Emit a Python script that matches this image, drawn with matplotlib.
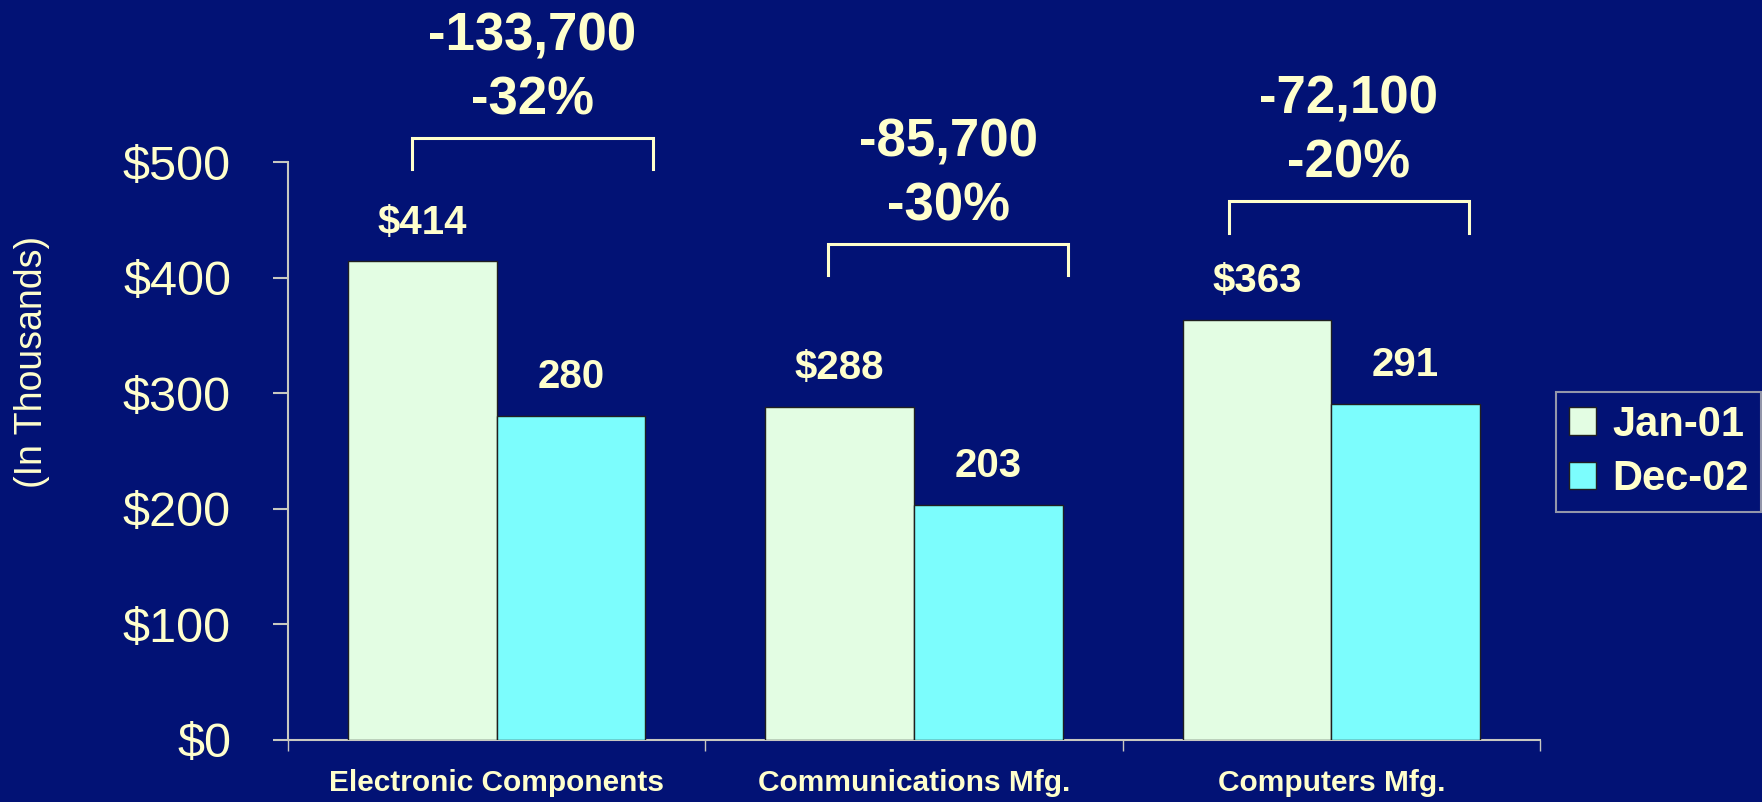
import matplotlib
matplotlib.use("Agg")
import matplotlib.pyplot as plt
from matplotlib.patches import Patch
import matplotlib.font_manager as fm

# ---- data ----
categories = ["Electronic Components", "Communications Mfg.", "Computers Mfg."]
series_names = ["Jan-01", "Dec-02"]
jan01 = [414, 288, 363]
dec02 = [280, 203, 291]
change_abs = ["-133,700", "-85,700", "-72,100"]
change_pct = ["-32%", "-30%", "-20%"]
yticks = [0, 100, 200, 300, 400, 500]
ytick_labels = ["$0", "$100", "$200", "$300", "$400", "$500"]

# ---- layout (not data) ----
bracket_top = [521, 429, 466]
bracket_left = [-0.202, -0.207, -0.246]
bracket_right = [0.374, 0.370, 0.330]
bracket_drop = 27

BG = "#021275"
TXT = "#FFFFCC"
C_JAN = "#E3FDE3"
C_DEC = "#7CFDFD"
AX = "#C8C8C0"

names = {f.name for f in fm.fontManager.ttflist}
base = "Liberation Sans" if "Liberation Sans" in names else "DejaVu Sans"
narrow = "Liberation Sans Narrow" if "Liberation Sans Narrow" in names else None
plt.rcParams["font.family"] = [base, "DejaVu Sans"]

fig = plt.figure(figsize=(17.62, 8.02), dpi=100, facecolor=BG)
ax = fig.add_axes([288 / 1762, 62 / 802, (1540 - 288) / 1762, 578 / 802])
ax.set_facecolor(BG)

w = 0.356
x = list(range(len(categories)))
ax.bar([i - w / 2 for i in x], jan01, width=w, color=C_JAN, edgecolor="#202020", linewidth=1, zorder=3)
ax.bar([i + w / 2 for i in x], dec02, width=w, color=C_DEC, edgecolor="#202020", linewidth=1, zorder=3)

ax.set_xlim(-0.5, 2.5)
ax.set_ylim(0, 500)

for s in ["top", "right"]:
    ax.spines[s].set_visible(False)
for s in ["left", "bottom"]:
    ax.spines[s].set_color(AX)
    ax.spines[s].set_linewidth(1.5)

ax.set_yticks(yticks)
ax.set_yticklabels(ytick_labels)
ax.tick_params(axis="y", colors=AX, length=11, width=1.5, pad=30, labelsize=35, labelcolor=TXT)
ax.set_xticks([-0.5, 0.5, 1.5, 2.5])
ax.set_xticklabels([])
ax.tick_params(axis="x", colors=AX, length=8, width=1, direction="out")

if narrow:
    xfam, xsize = [narrow, base], 25
else:
    xfam, xsize = [base], 21.5
for i, c in enumerate(categories):
    ax.annotate(c, xy=(i, 0), xycoords=("data", "axes fraction"), xytext=(0, -31),
                textcoords="offset points", ha="center", va="center",
                fontsize=xsize, fontweight="bold", color=TXT, family=xfam)

# value labels
for i in x:
    ax.annotate(f"${jan01[i]}", xy=(i - w / 2, jan01[i]), xytext=(0, 28), textcoords="offset points",
                ha="center", va="center", fontsize=29, fontweight="bold", color=TXT)
    ax.annotate(f"{dec02[i]}", xy=(i + w / 2, dec02[i]), xytext=(0, 28), textcoords="offset points",
                ha="center", va="center", fontsize=29, fontweight="bold", color=TXT)

# brackets and change annotations
for i in x:
    l = i + bracket_left[i]
    r = i + bracket_right[i]
    t = bracket_top[i]
    ax.plot([l, l, r, r], [t - bracket_drop, t, t, t - bracket_drop], color=TXT, lw=2.2,
            clip_on=False, solid_joinstyle="miter")
    cx = (l + r) / 2
    ax.annotate(change_pct[i], xy=(cx, t), xytext=(0, 27), textcoords="offset points",
                ha="center", va="center", fontsize=38, fontweight="bold", color=TXT, annotation_clip=False)
    ax.annotate(change_abs[i], xy=(cx, t), xytext=(0, 73), textcoords="offset points",
                ha="center", va="center", fontsize=38, fontweight="bold", color=TXT, annotation_clip=False)

fig.text(32 / 1762, 1 - 362 / 802, "(In Thousands)", rotation=90, ha="center", va="center",
         fontsize=27, color=TXT)

handles = [Patch(facecolor=C_JAN, edgecolor="#202020", label=series_names[0]),
           Patch(facecolor=C_DEC, edgecolor="#202020", label=series_names[1])]
leg = fig.legend(handles=handles, loc="upper left", bbox_to_anchor=(1556 / 1762, 1 - 392 / 802),
                 frameon=True, fancybox=False, prop={"weight": "bold", "size": 30},
                 handlelength=0.65, handleheight=0.65, handletextpad=0.4, labelspacing=0.35,
                 borderpad=0.3, borderaxespad=0)
leg.get_frame().set_facecolor(BG)
leg.get_frame().set_edgecolor("#B8B8B8")
leg.get_frame().set_linewidth(1.5)
for t in leg.get_texts():
    t.set_color(TXT)

fig.savefig("out.png", dpi=100, facecolor=BG)
